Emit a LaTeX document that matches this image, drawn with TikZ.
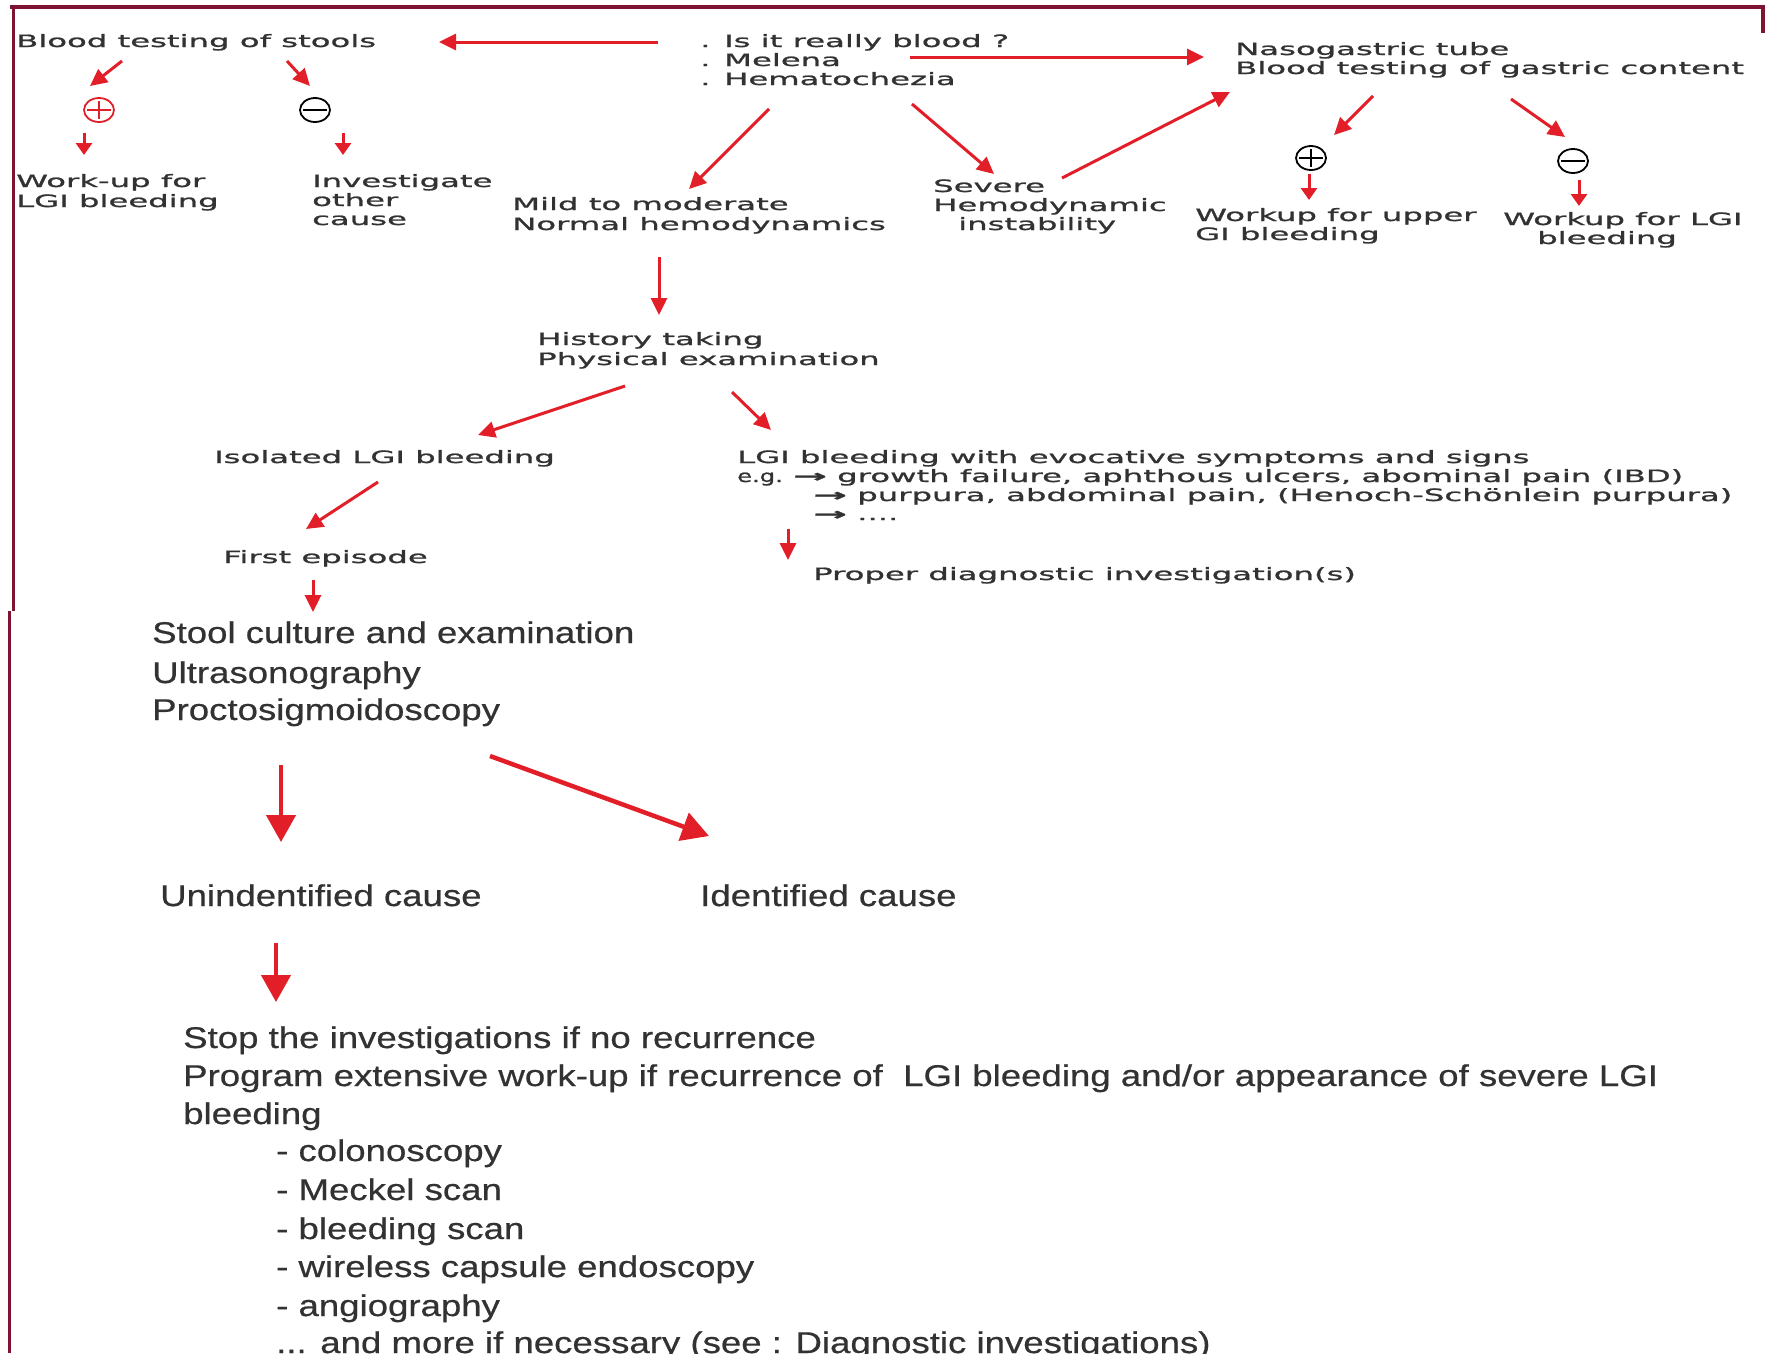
\documentclass[tikz,border=0pt]{standalone}
\usepackage{fontspec}
\setmainfont{Liberation Sans}
\newfontfamily\topf[FakeStretch=1.9,FakeBold=1.2]{DejaVu Sans}
\newfontfamily\lowf[FakeStretch=1.22,FakeBold=0.6]{Liberation Sans}
\usetikzlibrary{arrows.meta,shapes.geometric}
\definecolor{arrred}{RGB}{226,30,40}
\definecolor{framec}{RGB}{125,20,50}
\definecolor{txt}{RGB}{50,50,50}
\newcommand{\bigarr}{\scalebox{1.25}[1]{\bfseries →}}
\newcommand{\egtext}{\scalebox{0.75}[1]{e.g.}}
\tikzset{
  tt/.style={anchor=base west, inner sep=0pt, font=\topf\fontsize{17}{19}\selectfont, text=txt},
  lt/.style={anchor=base west, inner sep=0pt, font=\lowf\fontsize{30}{38}\selectfont, text=txt},
  arr/.style={draw=arrred, line width=3pt, -{Triangle[length=17pt,width=16pt]}},
  sarr/.style={draw=arrred, line width=3pt, -{Triangle[length=12pt,width=16pt]}},
  barr/.style={draw=arrred, line width=4.5pt, -{Triangle[length=27pt,width=29pt]}},
  sym/.style={ellipse, draw, line width=1.8pt, minimum width=30pt, minimum height=24pt, inner sep=0pt},
  symline/.style={line width=1.8pt, shorten <=4pt, shorten >=4pt},
  framel/.style={draw=framec, line width=3.5pt},
}
\begin{document}
\begin{tikzpicture}[x=1pt,y=-1pt]
\useasboundingbox (0,0) rectangle (1765,1353);
% frame
\draw[framel] (10,7) -- (1763,7) -- (1763,33);
\draw[framel] (13.5,7) -- (13.5,611);
\draw[framel] (9.5,611) -- (9.5,1353);

% top section texts
\node[tt] (bts) at (16,47) {Blood testing of stools};
\node[tt] (q1) at (700,47) {. Is it really blood ?};
\node[tt] (q2) at (700,66) {. Melena};
\node[tt] (q3) at (700,85) {. Hematochezia};
\node[tt] (ng1) at (1235,55) {Nasogastric tube};
\node[tt] (ng2) at (1235,74) {Blood testing of gastric content};

\node[sym, draw=arrred] (pl1) at (99,110) {};
\draw[symline, arrred] (pl1.west) -- (pl1.east);
\draw[symline, arrred] (pl1.north) -- (pl1.south);
\node[sym, draw=black] (mi1) at (315,110) {};
\draw[symline, black] (mi1.west) -- (mi1.east);
\node[sym, draw=black] (pl2) at (1311,158) {};
\draw[symline, black] (pl2.west) -- (pl2.east);
\draw[symline, black] (pl2.north) -- (pl2.south);
\node[sym, draw=black] (mi2) at (1573,161) {};
\draw[symline, black] (mi2.west) -- (mi2.east);

\node[tt] (wu1) at (16,187) {Work-up for};
\node[tt] (wu2) at (16,207) {LGI bleeding};
\node[tt] (inv1) at (312,187) {Investigate};
\node[tt] (inv2) at (312,206) {other};
\node[tt] (inv3) at (312,225) {cause};
\node[tt] (mild1) at (512,210) {Mild to moderate};
\node[tt] (mild2) at (512,230) {Normal hemodynamics};
\node[tt] (sev1) at (933,192) {Severe};
\node[tt] (sev2) at (933,211) {Hemodynamic};
\node[tt] (sev3) at (958,230) {instability};
\node[tt] (wuu1) at (1195,221) {Workup for upper};
\node[tt] (wuu2) at (1195,240) {GI bleeding};
\node[tt] (wul1) at (1503,225) {Workup for LGI};
\node[tt] (wul2) at (1537,244) {bleeding};
\node[tt] (hist1) at (537,345) {History taking};
\node[tt] (hist2) at (537,365) {Physical examination};
\node[tt] (iso) at (214,463) {Isolated LGI bleeding};
\node[tt] (lgi1) at (737,463) {LGI bleeding with evocative symptoms and signs};
\node[tt] (lgi2) at (737,482) {\egtext\ \bigarr\ growth failure, aphthous ulcers, abominal pain (IBD)};
\node[tt] (lgi3) at (813,501) {\bigarr\ purpura, abdominal pain, (Henoch-Schönlein purpura)};
\node[tt] (lgi4) at (813,520) {\bigarr\ ....};
\node[tt] (first) at (223,563) {First episode};
\node[tt] (proper) at (813,580) {Proper diagnostic investigation(s)};

% lower section texts
\node[lt] (stool1) at (152,643) {Stool culture and examination};
\node[lt] (stool2) at (152,683) {Ultrasonography};
\node[lt] (stool3) at (152,720) {Proctosigmoidoscopy};
\node[lt] (unid) at (160,906) {Unindentified cause};
\node[lt] (ident) at (700,906) {Identified cause};
\node[lt] (stop1) at (183,1048) {Stop the investigations if no recurrence};
\node[lt] (stop2) at (183,1086) {Program extensive work-up if recurrence of \ LGI bleeding and/or appearance of severe LGI};
\node[lt] (stop3) at (183,1124) {bleeding};
\node[lt] (it1) at (276,1161) {- colonoscopy};
\node[lt] (it2) at (276,1200) {- Meckel scan};
\node[lt] (it3) at (276,1239) {- bleeding scan};
\node[lt] (it4) at (276,1277) {- wireless capsule endoscopy};
\node[lt] (it5) at (276,1316) {- angiography};
\node[lt] (more) at (276,1353) {... and more if necessary (see : Diagnostic investigations)};

% connectors
\draw[arr] ([shift={(-42,-5)}]q1.base west) -- ([shift={(423,-5)}]bts.base west);
\draw[arr] ([shift={(210,-9)}]q2.base west) -- ([shift={(-31,2)}]ng1.base west);
\draw[arr] ([shift={(106,14)}]bts.base west) -- ([shift={(-9,-24)}]pl1.center);
\draw[arr] ([shift={(271,14)}]bts.base west) -- ([shift={(-5,-24)}]mi1.center);
\draw[sarr] ([shift={(-15,23)}]pl1.center) -- ([shift={(68,-32)}]wu1.base west);
\draw[sarr] ([shift={(28,23)}]mi1.center) -- ([shift={(31,-32)}]inv1.base west);
\draw[arr] ([shift={(69,24)}]q3.base west) -- ([shift={(177,-21)}]mild1.base west);
\draw[arr] ([shift={(212,19)}]q3.base west) -- ([shift={(61,-18)}]sev1.base west);
\draw[arr] ([shift={(129,-14)}]sev1.base west) -- ([shift={(-5,18)}]ng2.base west);
\draw[arr] ([shift={(138,22)}]ng2.base west) -- ([shift={(23,-23)}]pl2.center);
\draw[arr] ([shift={(276,25)}]ng2.base west) -- ([shift={(-8,-24)}]mi2.center);
\draw[sarr] ([shift={(-2,16)}]pl2.center) -- ([shift={(114,-21)}]wuu1.base west);
\draw[sarr] ([shift={(6,19)}]mi2.center) -- ([shift={(76,-19)}]wul1.base west);
\draw[arr] ([shift={(147,27)}]mild2.base west) -- ([shift={(122,-30)}]hist1.base west);
\draw[arr] ([shift={(88,21)}]hist2.base west) -- ([shift={(264,-28)}]iso.base west);
\draw[arr] ([shift={(195,27)}]hist2.base west) -- ([shift={(34,-33)}]lgi1.base west);
\draw[arr] ([shift={(164,19)}]iso.base west) -- ([shift={(83,-34)}]first.base west);
\draw[arr] ([shift={(-25,9)}]lgi4.base west) -- ([shift={(-25,-20)}]proper.base west);
\draw[arr] ([shift={(90,17)}]first.base west) -- ([shift={(161,-31)}]stool1.base west);
\draw[barr] ([shift={(129,45)}]stool3.base west) -- ([shift={(121,-64)}]unid.base west);
\draw[barr] ([shift={(338,36)}]stool3.base west) -- ([shift={(9,-70)}]ident.base west);
\draw[barr] ([shift={(116,37)}]unid.base west) -- ([shift={(93,-46)}]stop1.base west);
\end{tikzpicture}
\end{document}
